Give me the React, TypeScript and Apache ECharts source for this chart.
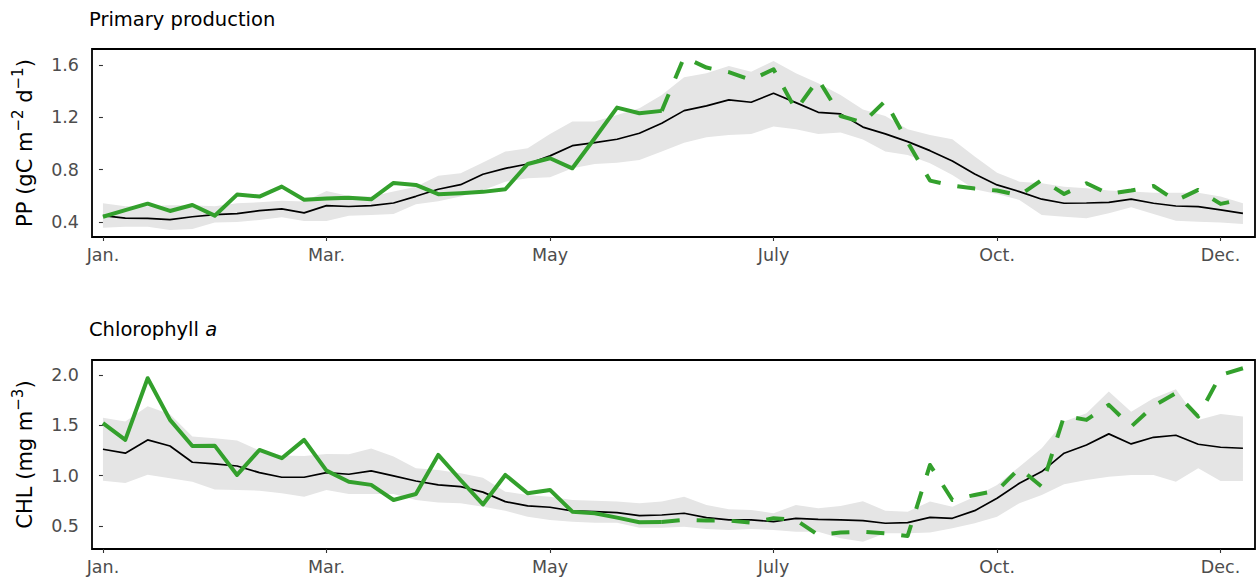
import React, { useEffect, useRef } from 'react';
import * as echarts from 'echarts';

// Week index (0..51) tick positions and their labels
const tickWeeks = [0, 10, 20, 30, 40, 50];
const tickLabels = ['Jan.', 'Mar.', 'May', 'July', 'Oct.', 'Dec.'];

const ppTicks = [0.4, 0.8, 1.2, 1.6];
const chlTicks = [0.5, 1.0, 1.5, 2.0];

// Primary production (gC m-2 d-1), weekly
const ppObs = [
  0.44, 0.49, 0.54, 0.484, 0.53, 0.448, 0.609, 0.594, 0.67, 0.57,
  0.58, 0.585, 0.573, 0.698, 0.683, 0.612, 0.62, 0.63, 0.65, 0.843,
  0.887, 0.81, 1.04, 1.274, 1.231, 1.249, 1.66, 1.58, 1.545, 1.486,
  1.567, 1.256, 1.49, 1.21, 1.16, 1.325, 1.01, 0.716, 0.678, 0.655,
  0.64, 0.603, 0.721, 0.614, 0.696, 0.614, 0.64, 0.675, 0.563, 0.645,
  0.538, 0.574,
];
const ppMean = [
  0.448, 0.43, 0.427, 0.418, 0.44, 0.456, 0.463, 0.486, 0.5, 0.469,
  0.525, 0.518, 0.525, 0.545, 0.596, 0.65, 0.685, 0.765, 0.81, 0.843,
  0.905, 0.983, 1.006, 1.032, 1.078, 1.155, 1.251, 1.287, 1.333, 1.315,
  1.384, 1.312, 1.238, 1.226, 1.125, 1.073, 1.014, 0.945, 0.866, 0.767,
  0.683, 0.632, 0.574, 0.543, 0.545, 0.55, 0.574, 0.543, 0.522, 0.517,
  0.492, 0.466,
];
const ppUpper = [
  0.543, 0.52, 0.52, 0.527, 0.527, 0.52, 0.543, 0.55, 0.563, 0.556,
  0.637, 0.599, 0.594, 0.632, 0.67, 0.754, 0.772, 0.855, 0.938, 0.963,
  1.073, 1.167, 1.167, 1.218, 1.269, 1.371, 1.506, 1.537, 1.593, 1.549,
  1.631, 1.537, 1.46, 1.371, 1.26, 1.21, 1.108, 1.065, 1.032, 0.9,
  0.777, 0.708, 0.696, 0.67, 0.657, 0.64, 0.632, 0.624, 0.624, 0.624,
  0.594, 0.543,
];
const ppLower = [
  0.356, 0.363, 0.363, 0.339, 0.346, 0.395, 0.4, 0.415, 0.436, 0.408,
  0.408, 0.448, 0.453, 0.46, 0.535, 0.558, 0.594, 0.642, 0.708, 0.734,
  0.742, 0.81, 0.843, 0.853, 0.874, 0.938, 1.006, 1.047, 1.065, 1.073,
  1.129, 1.108, 1.073, 1.083, 1.03, 0.938, 0.912, 0.849, 0.759, 0.65,
  0.614, 0.568, 0.454, 0.44, 0.428, 0.466, 0.512, 0.461, 0.41, 0.402,
  0.395, 0.385,
];

// Chlorophyll a (mg m-3), weekly
const chlObs = [
  1.521, 1.355, 1.968, 1.554, 1.295, 1.298, 1.007, 1.255, 1.173, 1.355,
  1.05, 0.94, 0.908, 0.758, 0.818, 1.206, 0.957, 0.714, 1.007, 0.825,
  0.858, 0.642, 0.626, 0.583, 0.537, 0.54, 0.56, 0.553, 0.553, 0.533,
  0.576, 0.56, 0.411, 0.434, 0.443, 0.427, 0.4, 1.106, 0.758, 0.808,
  0.851, 1.073, 0.891, 1.593, 1.554, 1.703, 1.487, 1.693, 1.819, 1.587,
  2.0, 2.067,
];
const chlMean = [
  1.262, 1.223, 1.355, 1.295, 1.133, 1.116, 1.096, 1.03, 0.984, 0.984,
  1.03, 1.014, 1.047, 0.997, 0.947, 0.908, 0.891, 0.836, 0.742, 0.699,
  0.686, 0.649, 0.642, 0.632, 0.602, 0.609, 0.626, 0.583, 0.56, 0.56,
  0.543, 0.576, 0.566, 0.56, 0.553, 0.527, 0.533, 0.586, 0.576, 0.652,
  0.775, 0.924, 1.04, 1.223, 1.305, 1.415, 1.315, 1.381, 1.401, 1.312,
  1.282, 1.272,
];
const chlUpper = [
  1.575, 1.537, 1.69, 1.61, 1.39, 1.372, 1.35, 1.25, 1.2, 1.196,
  1.216, 1.213, 1.269, 1.189, 1.073, 1.057, 1.024, 0.98, 0.841, 0.808,
  0.791, 0.758, 0.751, 0.742, 0.726, 0.742, 0.791, 0.709, 0.666, 0.659,
  0.626, 0.709, 0.676, 0.699, 0.745, 0.652, 0.642, 0.742, 0.692, 0.791,
  0.908, 1.089, 1.272, 1.537, 1.62, 1.835, 1.636, 1.769, 1.859, 1.554,
  1.613, 1.587,
];
const chlLower = [
  0.95, 0.927, 1.01, 0.974, 0.94, 0.862, 0.858, 0.851, 0.825, 0.791,
  0.858, 0.818, 0.818, 0.818, 0.758, 0.732, 0.726, 0.69, 0.652, 0.592,
  0.56, 0.543, 0.533, 0.533, 0.483, 0.483, 0.493, 0.47, 0.46, 0.47,
  0.46, 0.443, 0.443, 0.378, 0.344, 0.427, 0.427, 0.434, 0.477, 0.527,
  0.592, 0.726, 0.808, 0.914, 0.957, 0.99, 1.007, 1.007, 0.94, 1.073,
  0.947, 0.947,
];

const SPLIT = 25; // observed series: solid up to this week, dashed after

const GREEN = '#33a02c';
const BAND = '#e5e5e5';
const FONT = '"DejaVu Sans", "Liberation Sans", Arial, sans-serif';

function pairs(arr: number[], from = 0, to = arr.length - 1) {
  const out: [number, number][] = [];
  for (let i = from; i <= to; i++) out.push([i, arr[i]]);
  return out;
}

function panelSeries(idx: number, obs: number[], mean: number[], up: number[], lo: number[]) {
  const common = {
    type: 'line',
    xAxisIndex: idx,
    yAxisIndex: idx,
    symbol: 'none',
    silent: true,
  };
  return [
    {
      type: 'custom',
      name: 'band' + idx,
      xAxisIndex: idx,
      yAxisIndex: idx,
      silent: true,
      z: 1,
      data: up.map((u, i) => [i, lo[i], u]),
      encode: { x: 0, y: [1, 2] },
      renderItem: (params: any, api: any) => {
        if (params.dataIndex !== 0) return { type: 'group', children: [] };
        const top = up.map((u, i) => api.coord([i, u]));
        const bot = lo.map((l, i) => api.coord([i, l])).reverse();
        return {
          type: 'polygon',
          shape: { points: top.concat(bot) },
          style: { fill: BAND, stroke: 'none' },
        };
      },
    },
    { ...common, name: 'mean' + idx, data: pairs(mean), lineStyle: { color: '#000', width: 1.7 }, z: 3 },
    {
      ...common,
      name: 'obsSolid' + idx,
      data: pairs(obs, 0, SPLIT),
      lineStyle: { color: GREEN, width: 4, cap: 'butt', join: 'round' },
      z: 4,
    },
    {
      ...common,
      name: 'obsDash' + idx,
      data: pairs(obs, SPLIT, obs.length - 1),
      lineStyle: { color: GREEN, width: 4, type: [18, 17], cap: 'butt', join: 'round' },
      z: 4,
    },
  ];
}

function xAxis(idx: number) {
  return {
    type: 'value',
    gridIndex: idx,
    min: -0.49,
    max: 51.54,
    axisLine: { show: false },
    splitLine: { show: false },
    axisTick: { show: true, length: 4, lineStyle: { color: '#333', width: 1.1 }, customValues: tickWeeks },
    axisLabel: {
      customValues: tickWeeks,
      formatter: (v: number) => tickLabels[tickWeeks.indexOf(Math.round(v))] ?? '',
      color: '#4d4d4d',
      fontSize: 17.5,
      fontFamily: FONT,
      margin: 9,
    },
  };
}

function yAxis(idx: number, min: number, max: number, ticks: number[], name: string) {
  return {
    type: 'value',
    gridIndex: idx,
    min,
    max,
    name,
    nameLocation: 'middle',
    nameRotate: 90,
    nameGap: 52,
    nameTextStyle: {
      color: '#000',
      fontFamily: FONT,
      fontSize: 21,
      rich: {
        n: { fontSize: 21, fontFamily: FONT, color: '#000', lineHeight: 30 },
        s: { fontSize: 15, fontFamily: FONT, color: '#000', lineHeight: 16, verticalAlign: 'top' },
      },
    },
    axisLine: { show: false },
    splitLine: { show: false },
    axisTick: { show: true, length: 4, lineStyle: { color: '#333', width: 1.1 }, customValues: ticks },
    axisLabel: {
      customValues: ticks,
      formatter: (v: number) => v.toFixed(1),
      color: '#4d4d4d',
      fontSize: 17.5,
      fontFamily: FONT,
      margin: 13,
    },
  };
}

export default function App() {
  const ref = useRef<HTMLDivElement>(null);
  useEffect(() => {
    document.body.style.margin = '0';
    if (!ref.current) return;
    const chart = echarts.init(ref.current, undefined, { renderer: 'svg' });
    const gridBase = { left: 92, width: 1163, show: true, borderColor: '#000', borderWidth: 1.8, backgroundColor: 'transparent', containLabel: false };
    chart.setOption({
      animation: false,
      textStyle: { fontFamily: FONT },
      title: [
        {
          text: 'Primary production',
          left: 89,
          top: 9,
          padding: 0,
          textStyle: { fontSize: 19.5, fontWeight: 'normal', color: '#000', fontFamily: FONT },
        },
        {
          text: '{n|Chlorophyll }{i|a}',
          left: 89,
          top: 319,
          padding: 0,
          textStyle: {
            fontSize: 19.5,
            fontWeight: 'normal',
            color: '#000',
            fontFamily: FONT,
            rich: {
              n: { fontSize: 19.5, color: '#000', fontFamily: FONT },
              i: { fontSize: 19.5, color: '#000', fontFamily: FONT, fontStyle: 'italic' },
            },
          },
        },
      ],
      grid: [
        { ...gridBase, top: 49, height: 188 },
        { ...gridBase, top: 360, height: 189 },
      ],
      xAxis: [xAxis(0), xAxis(1)],
      yAxis: [
        yAxis(0, 0.285, 1.722, ppTicks, '{n|PP (gC m}{s|−2}{n| d}{s|−1}{n|)}'),
        yAxis(1, 0.271, 2.149, chlTicks, '{n|CHL (mg m}{s|−3}{n|)}'),
      ],
      series: [
        ...panelSeries(0, ppObs, ppMean, ppUpper, ppLower),
        ...panelSeries(1, chlObs, chlMean, chlUpper, chlLower),
      ],
    });
    return () => chart.dispose();
  }, []);
  return <div ref={ref} style={{ width: 1257, height: 584 }} />;
}
